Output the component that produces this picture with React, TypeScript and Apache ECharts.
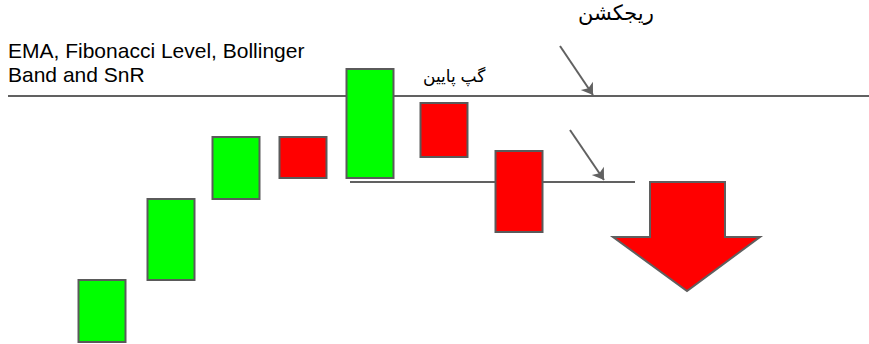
import React, { useEffect, useRef } from "react";
import * as echarts from "echarts";

// Candle positions (time axis units) and prices [open, close]
const candleTimes = [102, 171, 236, 303, 370, 444, 519];
const candleOpen = [2, 64, 145, 207, 166, 241, 193];
const candleClose = [64, 145, 207, 166, 275, 187, 112];

// Resistance line (upper) and support line (lower)
const upperLineTimes = [8, 869];
const upperLinePrice = 248;
const lowerLineTimes = [350, 635];
const lowerLinePrice = 162;

// Pointer arrows: [startTime, startPrice, endTime, endPrice]
const arrowStarts = [[560, 298], [570, 214]];
const arrowEnds = [[593, 249], [604, 164]];

// Big down arrow outline (time, price)
const bigArrowTimes = [650, 725, 725, 760, 687, 613, 650];
const bigArrowPrices = [162, 162, 107, 107, 53, 107, 107];

const titleText = "EMA, Fibonacci Level, Bollinger\nBand and SnR";
const rejectionText = "ریجکشن";
const gapText = "گپ پایین";

export default function App() {
  const ref = useRef<HTMLDivElement>(null);
  useEffect(() => {
    document.body.style.margin = "0";
    const chart = echarts.init(ref.current!, null, { renderer: "svg" });
    const candleData = candleTimes.map((t, i) => {
      const o = candleOpen[i];
      const c = candleClose[i];
      return [t, o, c, Math.min(o, c), Math.max(o, c)];
    });
    const lineColor = "#616161";
    chart.setOption({
      animation: false,
      grid: { left: 0, right: 0, top: 0, bottom: 0 },
      xAxis: { type: "value", min: 0, max: 869, show: false },
      yAxis: { type: "value", min: 0, max: 344, show: false },
      series: [
        {
          type: "line",
          data: upperLineTimes.map((t) => [t, upperLinePrice]),
          symbol: "none",
          lineStyle: { color: lineColor, width: 2 },
          z: 1,
        },
        {
          type: "line",
          data: lowerLineTimes.map((t) => [t, lowerLinePrice]),
          symbol: "none",
          lineStyle: { color: lineColor, width: 2 },
          z: 1,
        },
        {
          type: "candlestick",
          data: candleData,
          encode: { x: 0, y: [1, 2, 3, 4] },
          barWidth: 47,
          itemStyle: {
            color: "#00ff00",
            color0: "#ff0000",
            borderColor: "#5a5a5a",
            borderColor0: "#5a5a5a",
            borderWidth: 2,
          },
          z: 2,
        },
        {
          type: "lines",
          coordinateSystem: "cartesian2d",
          data: arrowStarts.map((s, i) => ({ coords: [s, arrowEnds[i]] })),
          symbol: ["none", "arrow"],
          symbolSize: [0, 11],
          lineStyle: { color: lineColor, width: 2, opacity: 1 },
          z: 3,
        },
        {
          type: "custom",
          data: [0],
          renderItem: (params: any, api: any) => {
            const pts = bigArrowTimes.map((t, i) => api.coord([t, bigArrowPrices[i]]));
            return {
              type: "polygon",
              shape: { points: pts },
              style: { fill: "#ff0000", stroke: "#5f5f5f", lineWidth: 2 },
            };
          },
          z: 3,
        },
      ],
      graphic: [
        {
          type: "text",
          left: 8,
          top: 38,
          style: {
            text: titleText,
            font: '21px "Liberation Sans", Arial, sans-serif',
            lineHeight: 24,
            fill: "#000",
          },
        },
        {
          type: "text",
          left: 578,
          top: 2,
          style: {
            text: rejectionText,
            font: '21px "Liberation Sans", "DejaVu Sans", sans-serif',
            fill: "#000",
          },
        },
        {
          type: "text",
          left: 423,
          top: 68,
          style: {
            text: gapText,
            font: '17px "Liberation Sans", "DejaVu Sans", sans-serif',
            fill: "#000",
          },
        },
      ],
    });
    return () => chart.dispose();
  }, []);
  return <div ref={ref} style={{ width: 869, height: 344 }} />;
}
